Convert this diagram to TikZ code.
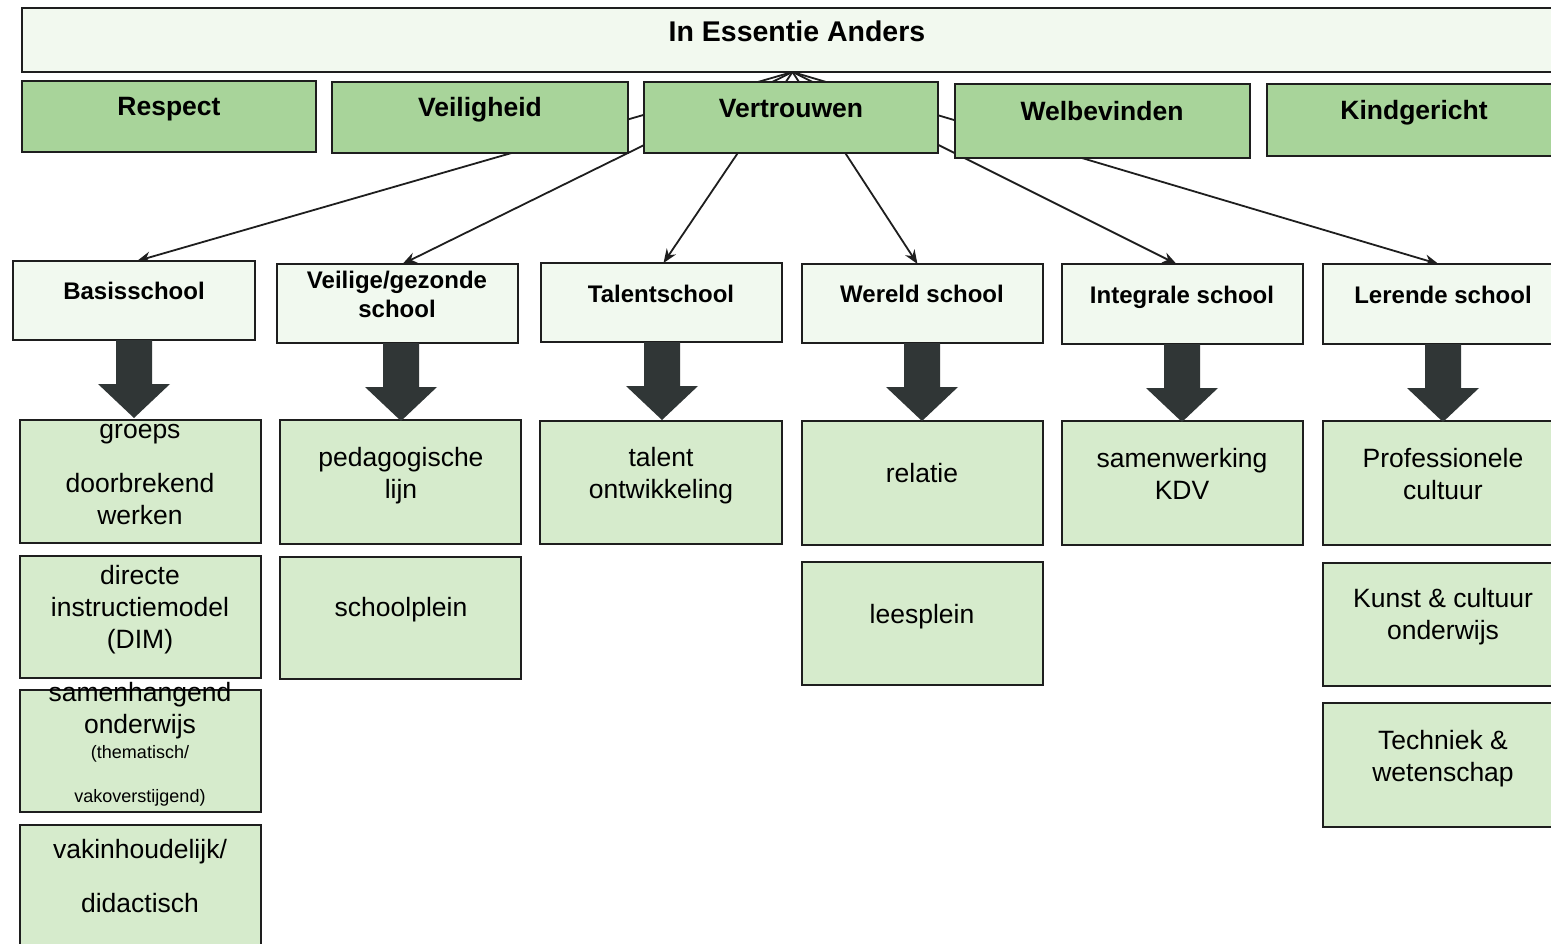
\documentclass[tikz,border=0pt]{standalone}
\usepackage{fontspec}
\setmainfont{Liberation Sans}
\usetikzlibrary{arrows.meta,backgrounds,calc}
\definecolor{topfill}{HTML}{F2F9EF}
\definecolor{valgreen}{HTML}{A8D49A}
\definecolor{schoolfill}{HTML}{F1F9EF}
\definecolor{contfill}{HTML}{D6EBCC}
\definecolor{darkarrow}{HTML}{303636}
\definecolor{boxline}{HTML}{1E1E1E}
\begin{document}
\begin{tikzpicture}[x=1pt,y=-1pt,
  box/.style={draw=boxline,line width=1.8pt,inner sep=0pt,outer sep=0pt},
  topbox/.style={box,fill=topfill},
  valbox/.style={box,fill=valgreen,minimum height=71pt},
  schoolbox/.style={box,fill=schoolfill,minimum width=241pt,minimum height=79pt},
  contbox/.style={box,fill=contfill,minimum width=241pt,minimum height=123pt},
  ttxt/.style={font=\fontsize{28.5}{32}\selectfont\bfseries,inner sep=0pt,text height=20pt,text depth=6pt,yshift=-4pt},
  vtxt/.style={font=\fontsize{26.5}{30}\selectfont\bfseries,inner sep=0pt,text height=19pt,text depth=5pt,yshift=-3pt},
  stxt/.style={font=\fontsize{24}{28}\selectfont\bfseries,inner sep=0pt,text height=17pt,text depth=5pt,yshift=-3pt},
  ctxt/.style={font=\fontsize{26.5}{32}\selectfont,inner sep=0pt,text height=19pt,text depth=5pt,yshift=-2.5pt},
  smalltxt/.style={font=\fontsize{18}{20}\selectfont,inner sep=0pt,text height=13pt,text depth=4pt,yshift=-2pt},
  conn/.style={draw=boxline,line width=1.8pt,-{Stealth[length=14pt,width=11pt]}},
  bigarrow/.style={fill=darkarrow}]
\useasboundingbox (0,0) rectangle (1551,944);
\clip (0,0) rectangle (1551,944);

% top box
\node[topbox,minimum width=1553pt,minimum height=64pt] (top) at (798.5,40) {};
\node[ttxt] (ttop) at (797,31) {In Essentie Anders};

% value boxes
\node[valbox,minimum width=294pt] (respect) at (169,116.5) {};
\node[valbox,minimum width=296pt] (veil) at (480,117.5) {};
\node[valbox,minimum width=294pt] (vertr) at (791,117.5) {};
\node[valbox,minimum width=295pt,minimum height=74pt] (welb) at (1102.5,121) {};
\node[valbox,minimum width=295pt,minimum height=72pt] (kind) at (1414.5,120) {};
\node[vtxt] (trespect) at (169,106) {Respect};
\node[vtxt] (tveil) at (480,107) {Veiligheid};
\node[vtxt] (tvertr) at (791,108) {Vertrouwen};
\node[vtxt] (twelb) at (1102,111) {Welbevinden};
\node[vtxt] (tkind) at (1414,110) {Kindgericht};

% school boxes
\node[schoolbox,minimum width=242pt] (bs) at (134,300.5) {};
\node[schoolbox] (vg) at (397.5,303.5) {};
\node[schoolbox] (ta) at (661.5,302.5) {};
\node[schoolbox] (we) at (922.5,303.5) {};
\node[schoolbox,minimum height=80pt] (ig) at (1182.5,304) {};
\node[schoolbox,minimum height=80pt] (le) at (1443.5,304) {};
\node[stxt] (tbs) at (134,290) {Basisschool};
\node[stxt] (tvg1) at (397,280) {Veilige/gezonde};
\node[stxt] (tvg2) at (397,308) {school};
\node[stxt] (tta) at (661,293) {Talentschool};
\node[stxt] (twe) at (922,293) {Wereld school};
\node[stxt] (tig) at (1182,294) {Integrale school};
\node[stxt] (tle) at (1443,294) {Lerende school};

% content boxes
\node[contbox] (c11) at (140.5,481.5) {};
\node[contbox,minimum height=122pt] (c12) at (140.5,617) {};
\node[contbox,minimum height=122pt] (c13) at (140.5,751) {};
\node[contbox,minimum height=122pt] (c14) at (140.5,886) {};
\node[contbox,minimum height=124pt] (c21) at (400.5,482) {};
\node[contbox,minimum height=122pt] (c22) at (400.5,618) {};
\node[contbox,minimum width=242pt] (c31) at (661,482.5) {};
\node[contbox,minimum height=124pt] (c41) at (922.5,483) {};
\node[contbox] (c42) at (922.5,623.5) {};
\node[contbox,minimum height=124pt] (c51) at (1182.5,483) {};
\node[contbox,minimum height=124pt] (c61) at (1443.5,483) {};
\node[contbox] (c62) at (1443.5,624.5) {};
\node[contbox,minimum height=124pt] (c63) at (1443.5,765) {};

\node[ctxt] (t111) at (140,429) {groeps};
\node[ctxt] (t112) at (140,483) {doorbrekend};
\node[ctxt] (t113) at (140,515) {werken};
\node[ctxt] (t121) at (140,575) {directe};
\node[ctxt] (t122) at (140,607) {instructiemodel};
\node[ctxt] (t123) at (140,639) {(DIM)};
\node[ctxt] (t131) at (140,692) {samenhangend};
\node[ctxt] (t132) at (140,724) {onderwijs};
\node[smalltxt] (t133) at (140,752) {(thematisch/};
\node[smalltxt] (t134) at (140,796) {vakoverstijgend)};
\node[ctxt] (t141) at (140,849) {vakinhoudelijk/};
\node[ctxt] (t142) at (140,903) {didactisch};
\node[ctxt] (t211) at (401,457) {pedagogische};
\node[ctxt] (t212) at (401,489) {lijn};
\node[ctxt] (t221) at (401,607) {schoolplein};
\node[ctxt] (t311) at (661,457) {talent};
\node[ctxt] (t312) at (661,489) {ontwikkeling};
\node[ctxt] (t411) at (922,473) {relatie};
\node[ctxt] (t421) at (922,614) {leesplein};
\node[ctxt] (t511) at (1182,458) {samenwerking};
\node[ctxt] (t512) at (1182,490) {KDV};
\node[ctxt] (t611) at (1443,458) {Professionele};
\node[ctxt] (t612) at (1443,490) {cultuur};
\node[ctxt] (t621) at (1443,598) {Kunst \& cultuur};
\node[ctxt] (t622) at (1443,630) {onderwijs};
\node[ctxt] (t631) at (1443,740) {Techniek \&};
\node[ctxt] (t632) at (1443,772) {wetenschap};

% big dark arrows from school boxes down to content
\foreach \n/\dx in {bs/0,vg/3.5,ta/0.5,we/-0.5,ig/-0.5,le/-0.5}{
  \fill[bigarrow] ([xshift=\dx pt]\n.south) ++(-18,0) -- ++(0,44) -- ++(-18,0)
    -- ++(36,34) -- ++(36,-34) -- ++(-18,0) -- ++(0,-44) -- cycle;
}

% connectors behind the value boxes
\coordinate (hub) at ([xshift=-6pt]top.south);
\begin{pgfonlayer}{background}
\fill[white] (0,0) rectangle (1551,944);
\draw[conn] (hub) -- ([xshift=3pt]bs.north);
\draw[conn] (hub) -- ([xshift=5pt]vg.north);
\draw[conn] (hub) -- ([xshift=2pt]ta.north);
\draw[conn] (hub) -- ([xshift=-5pt]we.north);
\draw[conn] (hub) -- ([xshift=-6pt]ig.north);
\draw[conn] (hub) -- ([xshift=-5pt]le.north);
\end{pgfonlayer}
\end{tikzpicture}
\end{document}
